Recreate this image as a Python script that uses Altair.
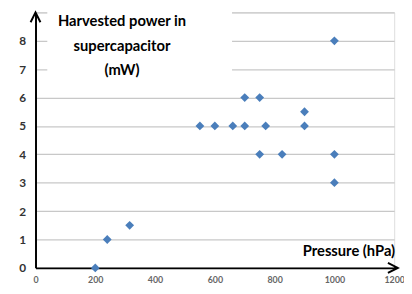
import altair as alt
import pandas as pd

pressure = [200, 240, 315, 550, 600, 660, 700, 700, 750, 770, 750, 825, 900, 900, 1000, 1000, 1000]
power = [0, 1, 1.5, 5, 5, 5, 5, 6, 6, 5, 4, 4, 5.5, 5, 8, 4, 3]
x_ticks = [0, 200, 400, 600, 800, 1000, 1200]
y_ticks = [0, 1, 2, 3, 4, 5, 6, 7, 8, 9]
y_title = ["Harvested power in", "supercapacitor", "(mW)"]
x_title = "Pressure (hPa)"

df = pd.DataFrame({"p": pressure, "w": power})

FONT = "Lato"
W, H = 365, 260

xs = alt.Scale(domain=[0, 1200], nice=False, zero=True)
ys = alt.Scale(domain=[0, 9], nice=False)

xaxis = alt.Axis(
    values=x_ticks, grid=False, title=None, domainColor="black", domainWidth=2,
    ticks=False, labelFont=FONT, labelFontSize=9, labelFontWeight="bold",
    labelColor="#666666", labelPadding=8, labelFlush=False, labelOverlap=False,
    format="d")
yaxis = alt.Axis(
    values=y_ticks, grid=True, gridColor="#c8c8c8", gridWidth=1.2, title=None,
    domainColor="black", domainWidth=2, ticks=False, labelFont=FONT,
    labelFontSize=12, labelFontWeight="bold", labelColor="#333333", labelPadding=10,
    labelOverlap=False, labelFlush=False,
    labelExpr="datum.value == 9 ? '' : datum.label")

points = alt.Chart(df).mark_point(shape="diamond", filled=True, size=80, color="#4a7ebb", opacity=1).encode(
    x=alt.X("p:Q", scale=xs, axis=xaxis),
    y=alt.Y("w:Q", scale=ys, axis=yaxis),
)

# white box behind the y title (hides gridlines as in reference)
box = alt.Chart(pd.DataFrame({"a": [0]})).mark_rect(color="white").encode(
    x=alt.value(12), x2=alt.value(200), y=alt.value(-4), y2=alt.value(68)
)

ytitle = alt.Chart(pd.DataFrame({"t": [y_title]})).mark_text(
    font=FONT, fontSize=15, fontWeight="bold", color="black", align="center",
    baseline="top", lineHeight=25
).encode(text="t:N", x=alt.value(88), y=alt.value(2))

xtitle = alt.Chart(pd.DataFrame({"t": [x_title]})).mark_text(
    font=FONT, fontSize=15, fontWeight="bold", color="black", align="right",
    baseline="middle"
).encode(text="t:N", x=alt.value(366), y=alt.value(H - 17))

arrow_ext = alt.Chart(pd.DataFrame({"x": [1200], "x2": [1212], "y": [0]})).mark_rule(
    color="black", strokeWidth=2, clip=False
).encode(x=alt.X("x:Q", scale=xs, axis=xaxis), x2="x2:Q", y=alt.Y("y:Q", scale=ys, axis=yaxis))

arrow_up = alt.Chart(pd.DataFrame({"x": [0], "y": [9]})).mark_point(
    shape="M-1,2L0,0L1,2", size=100, filled=False, stroke="black", strokeWidth=2,
    opacity=1, clip=False
).encode(x=alt.X("x:Q", scale=xs, axis=xaxis), y=alt.Y("y:Q", scale=ys, axis=yaxis))

arrow_right = alt.Chart(pd.DataFrame({"x": [1212], "y": [0]})).mark_point(
    shape="M-2,-1L0,0L-2,1", size=100, filled=False, stroke="black", strokeWidth=2,
    opacity=1, clip=False
).encode(x=alt.X("x:Q", scale=xs, axis=xaxis), y=alt.Y("y:Q", scale=ys, axis=yaxis))

chart = alt.layer(box, points, ytitle, xtitle, arrow_ext, arrow_up, arrow_right).properties(
    width=W, height=H,
    autosize=alt.AutoSizeParams(type="none"),
    padding={"left": 28, "top": 2, "right": 10, "bottom": 18},
).configure_view(stroke=None).configure(background="white")

chart.save("out.html", embed_options={"renderer": "svg", "actions": False})
